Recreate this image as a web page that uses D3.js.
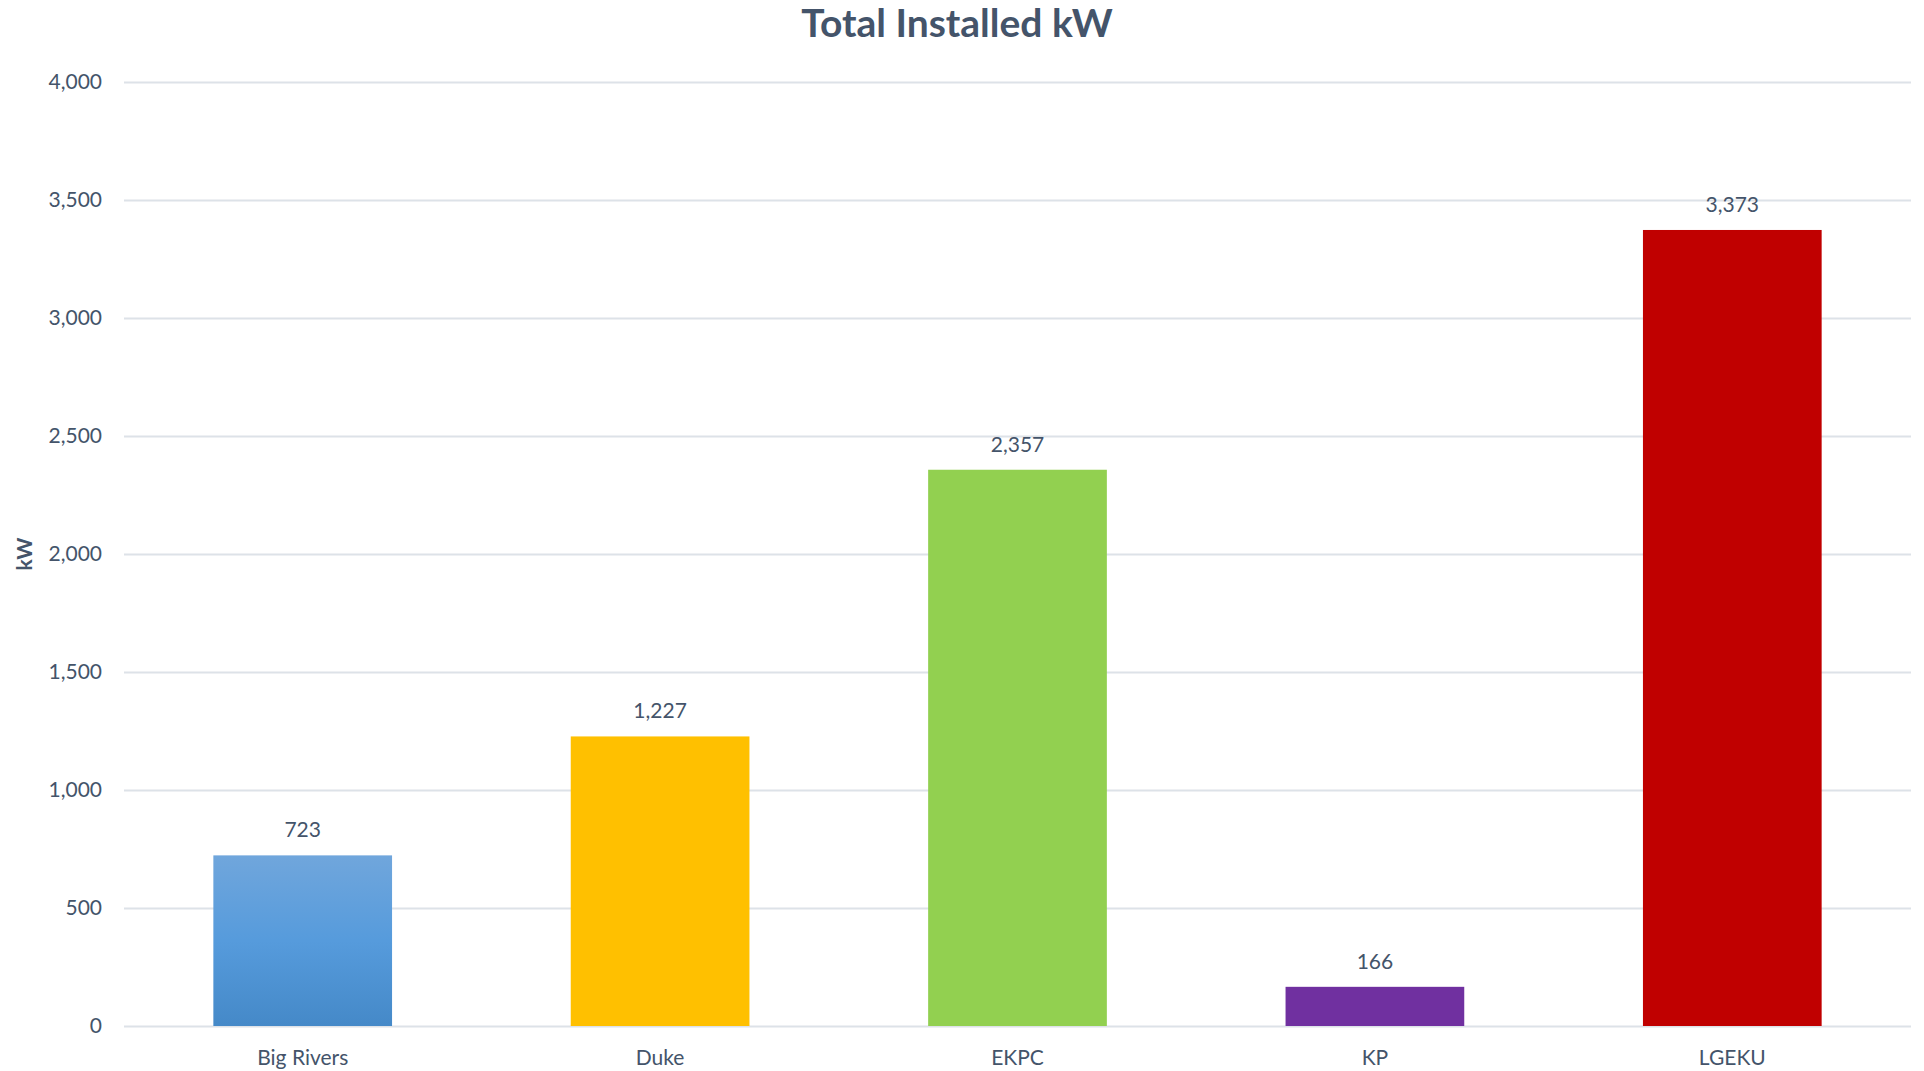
<!DOCTYPE html>
<html>
<head>
<meta charset="utf-8">
<script src="https://cdn.jsdelivr.net/npm/d3@7"></script>
<style>
  body { margin: 0; background: #fff; }
  text { font-family: Lato, "Open Sans", sans-serif; fill: #44546a; }
</style>
</head>
<body>
<div id="main"></div>
<script>
// data
var categories = ["Big Rivers", "Duke", "EKPC", "KP", "LGEKU"];
var values = [723, 1227, 2357, 166, 3373];
var colors = ["url(#blueGrad)", "#ffc000", "#92d050", "#7030a0", "#c00000"];
var yTicks = [0, 500, 1000, 1500, 2000, 2500, 3000, 3500, 4000];

// dimensions
var svg_width = 1924, svg_height = 1071;
var margin = {top: 82, right: 13, bottom: 45, left: 124};
var graph_width = svg_width - margin.left - margin.right,
    graph_height = svg_height - margin.top - margin.bottom;

var root = d3.select("#main").append("svg")
    .attr("width", svg_width)
    .attr("height", svg_height);

var grad = root.append("defs").append("linearGradient")
    .attr("id", "blueGrad")
    .attr("x1", 0).attr("y1", 0).attr("x2", 0).attr("y2", 1);
grad.append("stop").attr("offset", "0%").attr("stop-color", "#70a6dc");
grad.append("stop").attr("offset", "50%").attr("stop-color", "#569bdc");
grad.append("stop").attr("offset", "100%").attr("stop-color", "#4589c8");

var svg = root.append("g")
    .attr("transform", "translate(" + margin.left + "," + margin.top + ")");

var xScale = d3.scaleBand()
    .domain(categories)
    .range([0, graph_width])
    .paddingInner(0.5)
    .paddingOuter(0.25);
var yScale = d3.scaleLinear()
    .domain([0, 4000])
    .range([graph_height, 0]);

// grid + y axis
var yAxis = svg.append("g")
    .call(d3.axisLeft(yScale).tickValues(yTicks).tickFormat(d3.format(",")).tickSize(-graph_width).tickPadding(22));
yAxis.select(".domain").remove();
yAxis.selectAll("line").attr("stroke", "#dde2e8").attr("stroke-width", 2);
yAxis.selectAll("text").style("font-size", "21px").attr("fill", "#44546a");

// x axis
var xAxis = svg.append("g")
    .attr("transform", "translate(0," + graph_height + ")")
    .call(d3.axisBottom(xScale).tickSize(0).tickPadding(24));
xAxis.select(".domain").remove();
xAxis.selectAll("text").style("font-size", "21px").attr("fill", "#44546a");

// bars
svg.selectAll(".bar")
    .data(values)
    .enter()
    .append("rect")
    .attr("class", "bar")
    .attr("x", function(d, i) { return xScale(categories[i]); })
    .attr("width", xScale.bandwidth())
    .attr("y", function(d) { return yScale(d); })
    .attr("height", function(d) { return graph_height - yScale(d); })
    .attr("fill", function(d, i) { return colors[i]; });

// value labels
svg.selectAll(".val")
    .data(values)
    .enter()
    .append("text")
    .attr("class", "val")
    .attr("x", function(d, i) { return xScale(categories[i]) + xScale.bandwidth() / 2; })
    .attr("y", function(d) { return yScale(d) - 18; })
    .attr("text-anchor", "middle")
    .style("font-size", "21px")
    .text(function(d) { return d3.format(",")(d); });

// title
root.append("text")
    .attr("x", 957)
    .attr("y", 37)
    .attr("text-anchor", "middle")
    .style("font-size", "39px")
    .style("font-weight", "bold")
    .text("Total Installed kW");

// y label
root.append("text")
    .attr("transform", "translate(32,554) rotate(-90)")
    .attr("text-anchor", "middle")
    .style("font-size", "21px")
    .style("font-weight", "bold")
    .text("kW");
</script>
</body>
</html>
